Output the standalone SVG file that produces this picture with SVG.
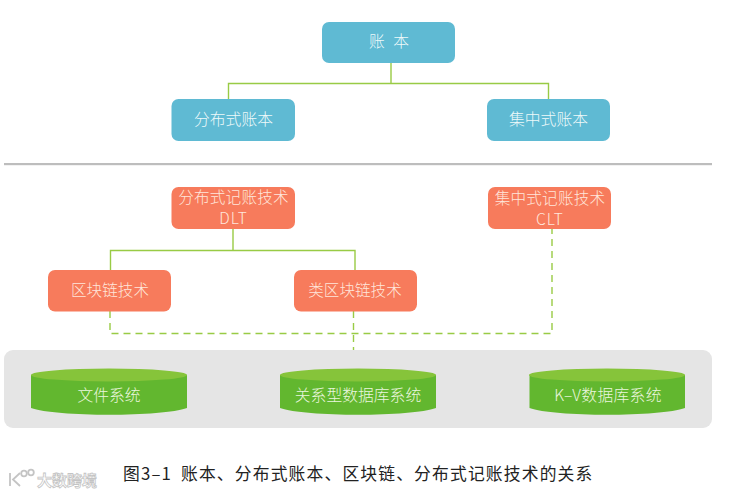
<svg xmlns="http://www.w3.org/2000/svg" width="736" height="494" viewBox="0 0 736 494">
<style>
text{font-family:"Noto Sans CJK SC","Noto Sans",sans-serif;text-anchor:middle;font-weight:300}
.l{fill:#eef9fa;font-size:15.8px}
.o{fill:#ffe6db;font-size:15.6px}
.g{fill:#eaf6de;font-size:15.8px}
.b{fill:#5fbad3}
.r{fill:#f77b5c}
.c{fill:none;stroke:#99cb45;stroke-width:1.4}
.d{fill:none;stroke:#99cb45;stroke-width:1.4;stroke-dasharray:7 5}
.body{fill:#62b72f}
.top{fill:#86c43a}
</style>
<rect width="736" height="494" fill="#fff"/>
<rect x="4" y="163" width="708" height="2.2" fill="#bdbdbd"/>
<rect id="storage-panel" x="4" y="350" width="708" height="78" rx="9" fill="#e5e5e5"/>
<g id="connectors">
<path class="c" d="M391 63V83.500M228.500 99V83.500H548.500V99"/>
<path class="c" d="M233 229V250.500M110.500 270V250.500H355V270"/>
<path class="d" d="M110 311V333.500H552V229"/>
<path class="d" d="M353.500 311V350"/>
</g>
<g id="ledger"><rect class="b" x="322" y="22" width="133" height="41" rx="7"/><text class="l" x="389" y="47" word-spacing="5">账 本</text></g>
<g id="distributed-ledger"><rect class="b" x="171.500" y="99" width="123.500" height="42" rx="7"/><text class="l" x="233.500" y="125">分布式账本</text></g>
<g id="central-ledger"><rect class="b" x="487" y="99" width="123" height="42" rx="7"/><text class="l" x="548.500" y="125">集中式账本</text></g>
<g id="dlt"><rect class="r" x="171.500" y="187" width="123.500" height="42" rx="7"/><text class="o" x="233.500" y="203" letter-spacing=".2">分布式记账技术</text><text class="o" x="233.500" y="223.500" letter-spacing="1">DLT</text></g>
<g id="clt"><rect class="r" x="488" y="187" width="123" height="42" rx="7"/><text class="o" x="550" y="204" letter-spacing=".2">集中式记账技术</text><text class="o" x="550" y="224.500" letter-spacing="1">CLT</text></g>
<g id="blockchain"><rect class="r" x="48" y="270" width="123" height="41.500" rx="7"/><text class="o" x="110" y="296">区块链技术</text></g>
<g id="blockchain-like"><rect class="r" x="294" y="270" width="123" height="41.500" rx="7"/><text class="o" x="355" y="296">类区块链技术</text></g>
<g id="file-system"><path class="body" d="M31 375V408C55 417 163 417 187 408V375Z"/><ellipse class="top" cx="109" cy="375" rx="78" ry="6.500"/><text class="g" x="109" y="401">文件系统</text></g>
<g id="relational-db"><path class="body" d="M280 375V408C304 417 412 417 436 408V375Z"/><ellipse class="top" cx="358" cy="375" rx="78" ry="6.500"/><text class="g" x="358" y="401">关系型数据库系统</text></g>
<g id="kv-db"><path class="body" d="M529.500 375V408C553 417 661 417 685 408V375Z"/><ellipse class="top" cx="607" cy="375" rx="78" ry="6.500"/><text class="g" x="608" y="401" letter-spacing=".3">K–V数据库系统</text></g>
<text id="caption" y="479.500" font-size="16.800" fill="#222" style="text-anchor:start;font-weight:400" letter-spacing="1.150"><tspan x="123">图3–1</tspan><tspan x="181">账本、分布式账本、区块链、分布式记账技术的关系</tspan></text>
<g id="watermark" fill="none" stroke="#c4c4c4" stroke-width="1.800"><path d="M10 473V486M20 473L13 479.500L20 486"/><circle cx="24" cy="473.500" r="2.800"/><circle cx="31" cy="472.500" r="2.800"/><text x="67" y="486" font-size="15px" fill="#fff" stroke-width=".8" style="font-weight:700">大数跨境</text></g>
</svg>
